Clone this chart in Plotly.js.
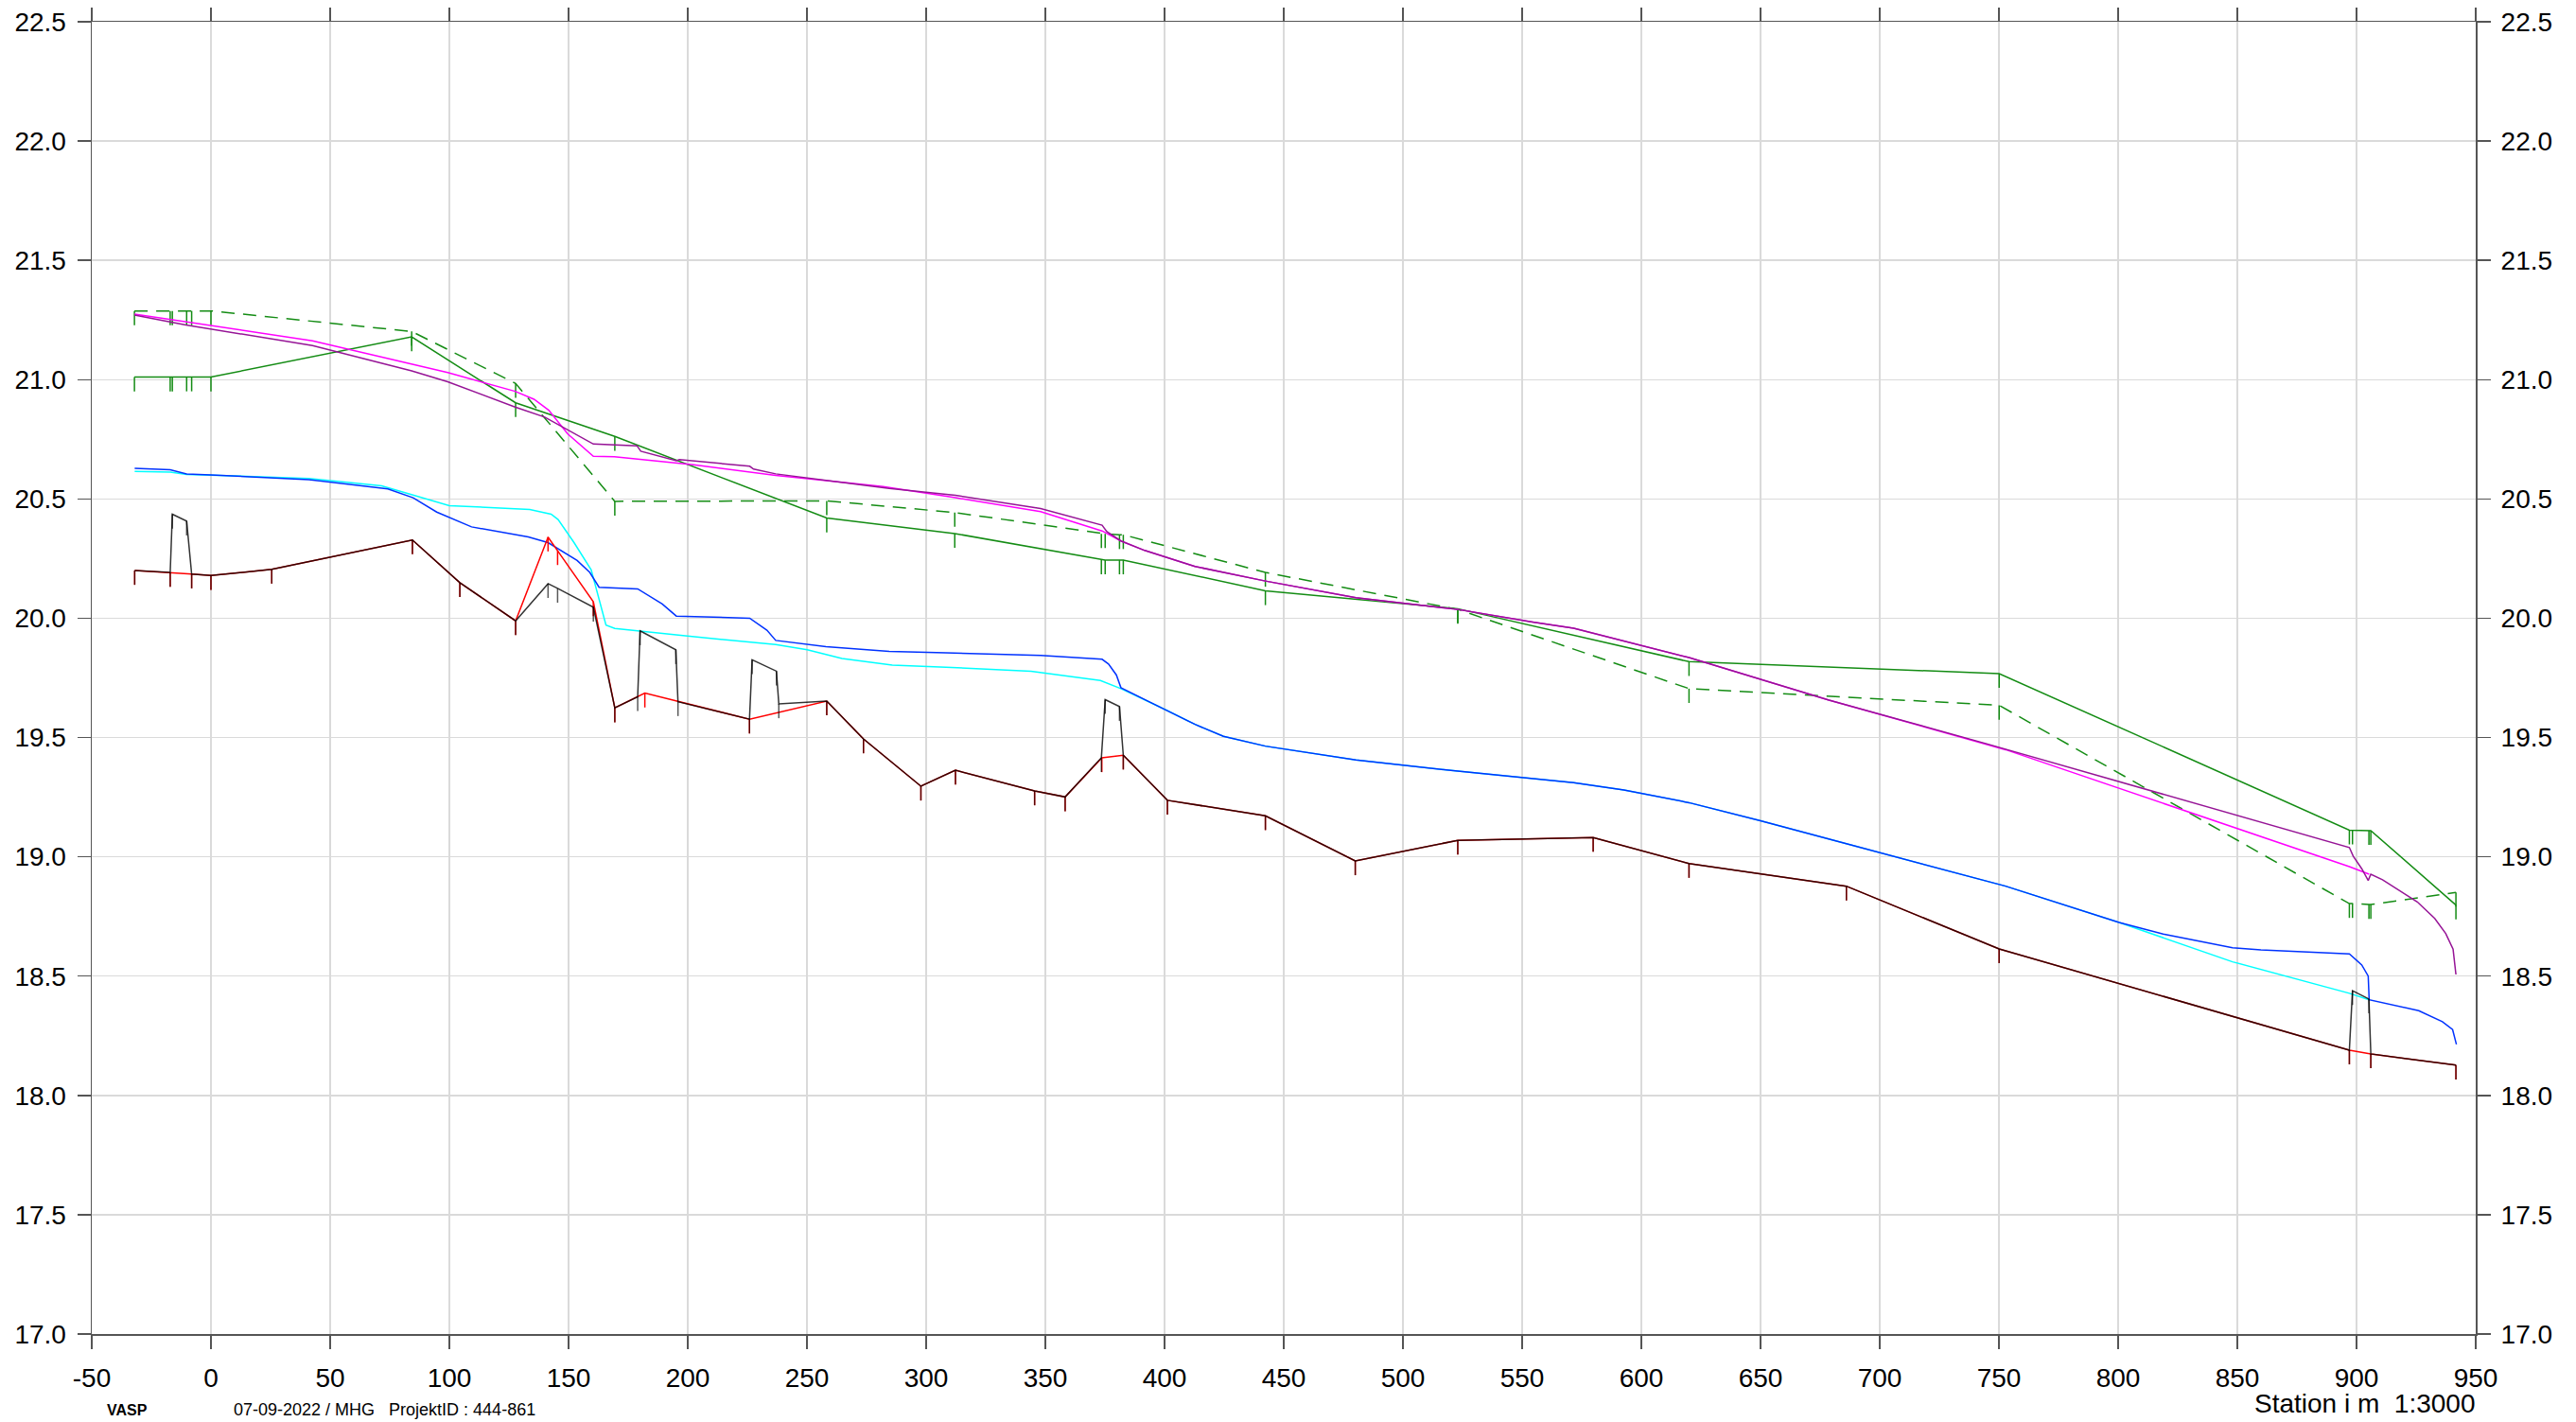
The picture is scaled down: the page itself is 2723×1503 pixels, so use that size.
<!DOCTYPE html>
<html><head><meta charset="utf-8">
<script src="https://cdn.plot.ly/plotly-3.0.1.min.js"></script>
<style>html,body{margin:0;padding:0;background:#fff}#chart{width:2723px;height:1503px}</style>
</head><body><div id="chart"></div>
<script>
// ---------- data ----------
const xTickVals = [-50,0,50,100,150,200,250,300,350,400,450,500,550,600,650,700,750,800,850,900,950];
const xTickText = ["-50","0","50","100","150","200","250","300","350","400","450","500","550","600","650","700","750","800","850","900","950"];

// cross-section stations of the banks
const bankStations = [-32.1,-17.1,-16.2,-10.2,-8.1,0,84.2,127.8,169.4,258.3,312.0,373.5,375.1,381.1,382.7,442.3,523.0,620.0,750.1,897.0,898.3,905.2,906.0,941.7];
const bankLeft  = [21.011,21.011,21.011,21.011,21.011,21.011,21.179,20.903,20.762,20.420,20.355,20.244,20.244,20.244,20.244,20.115,20.040,19.818,19.768,19.112,19.112,19.110,19.110,18.798];
const bankRight = [21.288,21.288,21.288,21.288,21.288,21.288,21.202,20.984,20.490,20.492,20.443,20.354,20.354,20.350,20.350,20.192,20.037,19.705,19.635,18.804,18.804,18.800,18.800,18.851];

// bed (red)
const bedX = [-32,-17.1,-8.1,0,25.5,84.5,104.4,127.8,141.4,145.4,160.4,169.4,182.0,225.9,258.3,273.7,297.8,312.3,345.5,358.3,373.7,382.7,401.2,442.3,480.0,523.0,579.8,620.0,686.0,750.1,897.0,906.0,941.7];
const bedY = [20.20,20.192,20.185,20.179,20.205,20.328,20.149,19.989,20.34,20.283,20.069,19.624,19.686,19.577,19.653,19.494,19.296,19.363,19.276,19.251,19.415,19.426,19.237,19.172,18.983,19.069,19.081,18.972,18.877,18.614,18.190,18.174,18.127];

// bottom incl. structures (black)
const botX = [-32,-17.1,-16.2,-10.2,-8.1,0,25.5,84.5,104.4,127.8,141.4,145.4,160.4,169.4,179.0,180.0,195.0,195.9,225.9,227.0,237.2,238.2,258.3,273.7,297.8,312.3,345.5,358.3,373.5,375.1,381.1,382.7,401.2,442.3,480.0,523.0,579.8,620.0,686.0,750.1,897.0,898.3,905.2,906.0,941.7];
const botY = [20.20,20.192,20.436,20.407,20.185,20.179,20.205,20.328,20.149,19.989,20.145,20.125,20.046,19.624,19.671,19.947,19.868,19.650,19.577,19.826,19.778,19.641,19.653,19.494,19.296,19.363,19.276,19.251,19.415,19.659,19.630,19.426,19.237,19.172,18.983,19.069,19.081,18.972,18.877,18.614,18.190,18.439,18.404,18.174,18.127];

// water level (blue)
const blueX = [-32,-17.1,-10.2,0,41.1,74.2,84.8,94.7,109.3,133.1,141.4,153.6,158.9,162.8,179.0,189.3,195.2,226.0,233.2,236.9,258.0,284.5,308.3,348.0,373.8,376.5,379.8,381.7,400.9,412.8,424.7,442.3,480.3,523.0,571.6,592.7,620.0,649.6,686.0,718.4,752.8,800.4,818.9,848.0,859.9,897.0,902.2,904.9,905.3,926.1,936.0,940.3,941.9];
const blueY = [20.628,20.622,20.605,20.601,20.581,20.542,20.505,20.445,20.383,20.341,20.317,20.242,20.192,20.130,20.123,20.060,20.009,20.000,19.950,19.907,19.881,19.861,19.855,19.844,19.828,19.808,19.762,19.709,19.614,19.555,19.505,19.464,19.406,19.359,19.311,19.280,19.227,19.152,19.055,18.970,18.877,18.725,18.676,18.619,18.610,18.593,18.547,18.500,18.401,18.355,18.309,18.276,18.214];

// water level (cyan)
const cyanX = [-32,-17.1,-10.2,0,41.1,71.6,84.8,90.1,100.0,133.7,142.7,145.6,152.3,159.5,162.8,165.7,169.4,180.0,199.9,236.9,250.1,264.7,285.8,308.3,344.0,373.1,381.7,400.9,412.8,424.7,442.3,480.3,523.0,571.6,592.7,620.0,649.6,686.0,718.4,752.8,800.4,848.0,897.0,905.3];
const cyanY = [20.615,20.612,20.603,20.600,20.586,20.555,20.516,20.500,20.472,20.456,20.436,20.414,20.317,20.203,20.080,19.971,19.957,19.945,19.925,19.890,19.868,19.831,19.804,19.795,19.778,19.739,19.705,19.614,19.555,19.505,19.464,19.406,19.359,19.311,19.280,19.227,19.152,19.055,18.970,18.877,18.725,18.560,18.428,18.401];

// water level (magenta)
const magX = [-32.1,42.6,99.3,127.6,135.5,141.7,149.6,160.4,169.2,202.5,236.9,281.9,312.3,348.0,373.8,381.7,391.7,412.8,442.3,480.3,523.0,554.4,571.6,620.0,678.7,744.8,752.8,897.0,905.3];
const magY = [21.275,21.163,21.030,20.951,20.918,20.872,20.773,20.679,20.677,20.643,20.599,20.552,20.505,20.447,20.366,20.324,20.284,20.217,20.156,20.086,20.037,19.984,19.958,19.835,19.657,19.474,19.449,18.959,18.927];

// water level (purple)
const purX = [-32.1,-16.7,-10.5,42.6,84.2,99.3,127.6,140.0,160.4,178.7,180.3,195.2,196.5,226.0,227.6,236.9,284.5,312.3,348.0,373.8,375.8,381.7,391.7,412.8,442.3,480.3,523.0,554.4,571.6,620.0,678.7,744.8,897.0,898.6,902.2,904.9,906.0,910.9,925.5,932.8,937.4,940.5,941.7];
const purY = [21.271,21.242,21.229,21.143,21.037,20.991,20.885,20.843,20.730,20.723,20.700,20.660,20.665,20.637,20.625,20.605,20.544,20.515,20.460,20.390,20.363,20.324,20.284,20.217,20.156,20.086,20.037,19.984,19.958,19.835,19.657,19.474,19.039,19.003,18.950,18.901,18.927,18.904,18.811,18.742,18.679,18.613,18.507];

// ---------- style ----------
const FONT = 'Arial, "Liberation Sans", sans-serif';
const TICK = 0.06;
const GREEN = 'rgb(20,140,20)';
function ticks(color){
  return {type:'constant', symmetric:false, value:0, valueminus:TICK, width:0, thickness:1.5, color:color};
}

const traces = [
  {x:bankStations, y:bankRight, mode:'lines', line:{color:GREEN, width:1.5, dash:'14px,9px'}, error_y:ticks(GREEN)},
  {x:bankStations, y:bankLeft, mode:'lines', line:{color:GREEN, width:1.5}, error_y:ticks(GREEN)},
  {x:magX, y:magY, mode:'lines', line:{color:'#ff00ff', width:1.5}},
  {x:purX, y:purY, mode:'lines', line:{color:'rgb(150,20,150)', width:1.5}},
  {x:cyanX, y:cyanY, mode:'lines', line:{color:'#00ffff', width:1.5}},
  {x:blueX, y:blueY, mode:'lines', line:{color:'rgb(0,50,255)', width:1.5}},
  {x:bedX, y:bedY, mode:'lines', line:{color:'#ff0000', width:1.5}, error_y:ticks('#ff0000')},
  {x:botX, y:botY, mode:'lines', line:{color:'rgba(0,0,0,0.8)', width:1.5}, error_y:ticks('rgba(0,0,0,0.65)'), yaxis:'y2'}
];
traces.forEach(t=>{t.showlegend=false; t.hoverinfo='skip';});

const axCommon = {
  showgrid:true, gridcolor:'rgb(218,218,218)', gridwidth:1.5,
  zeroline:false, ticks:'outside', ticklen:14, tickwidth:1.5, tickcolor:'#555',
  tickfont:{family:FONT, size:28, color:'#000'}
};

const layout = {
  width:2723, height:1503,
  margin:{l:97, r:106, t:23, b:93, pad:0},
  paper_bgcolor:'#fff', plot_bgcolor:'#fff',
  showlegend:false,
  xaxis: Object.assign({}, axCommon, {
    range:[-50,950], tickmode:'array', tickvals:xTickVals, ticktext:xTickText,
    showline:true, linecolor:'#555', linewidth:1.5, mirror:'ticks', ticklabelstandoff:7
  }),
  yaxis: Object.assign({}, axCommon, {
    range:[17,22.5], dtick:0.5, tick0:17, tickformat:'.1f',
    showline:true, linecolor:'#555', linewidth:1.5, mirror:'ticks', ticklabelstandoff:6
  }),
  yaxis2: Object.assign({}, axCommon, {
    range:[17,22.5], dtick:0.5, tick0:17, tickformat:'.1f',
    overlaying:'y', side:'right', showgrid:false, showline:false, ticklabelstandoff:6
  }),
  annotations:[
    {text:'Station i m\u00a0\u00a01:3000', xref:'paper', yref:'paper', x:1, y:-0.053, xanchor:'right', yanchor:'middle', showarrow:false, borderpad:0, font:{family:FONT, size:28, color:'#000'}},
    {text:'<b>VASP</b>', xref:'paper', yref:'paper', x:0.0056, y:-0.058, xanchor:'left', yanchor:'middle', showarrow:false, font:{family:FONT, size:16, color:'#000'}},
    {text:'07-09-2022 / MHG\u00a0\u00a0\u00a0ProjektID : 444-861', xref:'paper', yref:'paper', x:0.0587, y:-0.058, xanchor:'left', yanchor:'middle', showarrow:false, font:{family:FONT, size:18, color:'#000'}}
  ]
};

Plotly.newPlot('chart', traces, layout, {staticPlot:true, displayModeBar:false});
</script>
</body></html>
